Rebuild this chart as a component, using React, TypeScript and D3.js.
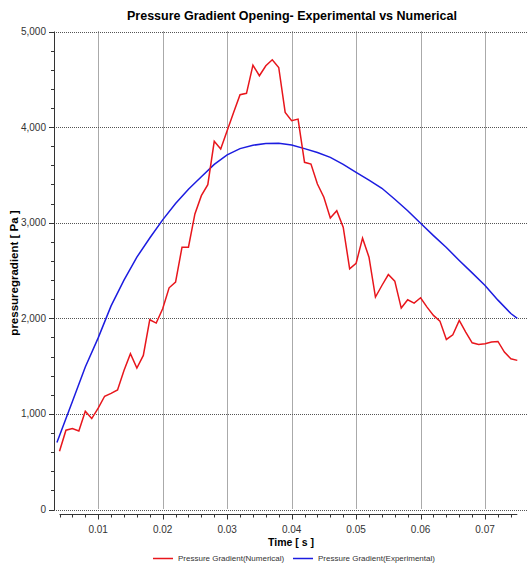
import React from "react";
import * as d3 from "d3";

const numTime: number[] = [
  0.004, 0.005, 0.006, 0.007, 0.008, 0.009, 0.01, 0.011, 0.012, 0.013, 0.014, 0.015,
  0.016, 0.017, 0.018, 0.019, 0.02, 0.021, 0.022, 0.023, 0.024, 0.025, 0.026, 0.027,
  0.028, 0.029, 0.03, 0.031, 0.032, 0.033, 0.034, 0.035, 0.036, 0.037, 0.038, 0.039,
  0.04, 0.041, 0.042, 0.043, 0.044, 0.045, 0.046, 0.047, 0.048, 0.049, 0.05, 0.051,
  0.052, 0.053, 0.054, 0.055, 0.056, 0.057, 0.058, 0.059, 0.06, 0.061, 0.062, 0.063,
  0.064, 0.065, 0.066, 0.067, 0.068, 0.069, 0.07, 0.071, 0.072, 0.073, 0.074, 0.075,
];
const numValues: number[] = [
  610, 829, 846, 822, 1027, 951, 1060, 1185, 1215, 1250, 1455, 1630,
  1480, 1612, 1985, 1950, 2100, 2319, 2378, 2744, 2744, 3092, 3283, 3398,
  3851, 3771, 3963, 4154, 4339, 4353, 4648, 4537, 4642, 4704, 4624, 4154,
  4067, 4084, 3632, 3614, 3405, 3266, 3050, 3126, 2953, 2517, 2576, 2838,
  2639, 2222, 2343, 2458, 2389, 2107, 2194, 2159, 2215, 2117, 2030, 1971,
  1779, 1828, 1978, 1856, 1744, 1727, 1734, 1751, 1758, 1647, 1577, 1560,
];

const expTime: number[] = [
  0.0036, 0.006, 0.008, 0.01, 0.012, 0.014, 0.016, 0.018, 0.02, 0.022, 0.024, 0.026,
  0.028, 0.03, 0.032, 0.034, 0.036, 0.038, 0.04, 0.042, 0.044, 0.046, 0.048, 0.05,
  0.052, 0.054, 0.056, 0.058, 0.06, 0.062, 0.064, 0.066, 0.068, 0.07, 0.072, 0.074, 0.075,
];
const expValues: number[] = [
  700, 1130, 1490, 1795, 2130, 2400, 2640, 2840, 3030, 3200, 3350, 3480,
  3610, 3710, 3775, 3810, 3828, 3830, 3813, 3775, 3734, 3683, 3610, 3527,
  3445, 3360, 3245, 3125, 2995, 2865, 2740, 2605, 2475, 2343, 2190, 2050, 1999,
];

const xTicks: number[] = [0.01, 0.02, 0.03, 0.04, 0.05, 0.06, 0.07];
const yTicks: number[] = [0, 1000, 2000, 3000, 4000, 5000];

const title = "Pressure Gradient Opening- Experimental vs Numerical";
const xLabel = "Time [ s ]";
const yLabel = "pressuregradient [ Pa ]";
const seriesNames: string[] = ["Pressure Gradient(Numerical)", "Pressure Gradient(Experimental)"];
const seriesColors: string[] = ["#e8161c", "#1c1ce0"];

export default function App() {
  const W = 527;
  const H = 565;
  const plotLeft = 54;
  const plotRight = 527;
  const x = d3.scaleLinear().domain([0.004, 0.075]).range([59.5, 517.3]);
  const y = d3.scaleLinear().domain([0, 5000]).range([509.5, 31.5]);
  const xAxisY = 514.5;

  const line = d3
    .line<[number, number]>()
    .x((d) => x(d[0]))
    .y((d) => y(d[1]));

  const numData: [number, number][] = numTime.map((t, i) => [t, numValues[i]]);
  const expData: [number, number][] = expTime.map((t, i) => [t, expValues[i]]);

  const xMinor: number[] = d3.range(4, 76, 2).map((v) => v / 1000).filter((v) => !xTicks.some((t) => Math.abs(t - v) < 1e-9));
  const yMinor: number[] = d3.range(0, 5001, 200).filter((v) => v % 1000 !== 0);

  const fmt = d3.format(",");
  const font = "'Liberation Sans', Arial, sans-serif";
  const axisColor = "#333";
  const gridColor = "#555";

  return (
    <svg width={W} height={H} style={{ position: "absolute", left: 0, top: 0 }} fontFamily={font}>
      <rect width={W} height={H} fill="#fff" />
      <text x={292} y={20} textAnchor="middle" fontSize={12.5} fontWeight="bold" fill="#000">
        {title}
      </text>
      {/* grid */}
      {yTicks.map((v) => (
        <line
          key={"gy" + v}
          x1={plotLeft}
          x2={plotRight}
          y1={Math.round(y(v)) + 0.5}
          y2={Math.round(y(v)) + 0.5}
          stroke={gridColor}
          strokeWidth={1}
          strokeDasharray="1,1"
        />
      ))}
      {xTicks.map((v) => (
        <line
          key={"gx" + v}
          x1={Math.round(x(v)) + 0.5}
          x2={Math.round(x(v)) + 0.5}
          y1={y(5000)}
          y2={y(0)}
          stroke={gridColor}
          strokeWidth={1}
          strokeDasharray="1,1"
        />
      ))}
      {/* y axis */}
      <line x1={plotLeft + 0.5} x2={plotLeft + 0.5} y1={y(5000)} y2={y(0) + 0.5} stroke={axisColor} />
      {yTicks.map((v) => (
        <g key={"yt" + v}>
          <line x1={plotLeft - 5} x2={plotLeft} y1={Math.round(y(v)) + 0.5} y2={Math.round(y(v)) + 0.5} stroke={axisColor} />
          <text x={plotLeft - 8} y={y(v) + 3.5} textAnchor="end" fontSize={10} fill="#333">
            {fmt(v)}
          </text>
        </g>
      ))}
      {yMinor.map((v) => (
        <line key={"ym" + v} x1={plotLeft - 3} x2={plotLeft} y1={Math.round(y(v)) + 0.5} y2={Math.round(y(v)) + 0.5} stroke={axisColor} />
      ))}
      {/* x axis */}
      <line x1={x(0.004)} x2={x(0.075)} y1={xAxisY} y2={xAxisY} stroke={axisColor} />
      {xTicks.map((v) => (
        <g key={"xt" + v}>
          <line x1={Math.round(x(v)) + 0.5} x2={Math.round(x(v)) + 0.5} y1={xAxisY} y2={xAxisY + 5} stroke={axisColor} />
          <text x={x(v)} y={533} textAnchor="middle" fontSize={10} fill="#333">
            {v.toString()}
          </text>
        </g>
      ))}
      {xMinor.map((v) => (
        <line key={"xm" + v} x1={Math.round(x(v)) + 0.5} x2={Math.round(x(v)) + 0.5} y1={xAxisY} y2={xAxisY + 3} stroke={axisColor} />
      ))}
      {/* labels */}
      <text x={291} y={546} textAnchor="middle" fontSize={10.5} fontWeight="bold" fill="#000">
        {xLabel}
      </text>
      <text
        transform={`translate(18,273) rotate(-90)`}
        textAnchor="middle"
        fontSize={11.5}
        fontWeight="bold"
        fill="#000"
      >
        {yLabel}
      </text>
      {/* series */}
      <path d={line(expData) ?? ""} fill="none" stroke={seriesColors[1]} strokeWidth={1.5} />
      <path d={line(numData) ?? ""} fill="none" stroke={seriesColors[0]} strokeWidth={1.5} />
      {/* legend */}
      {seriesNames.map((name, i) => {
        const lx = i === 0 ? 153 : 293;
        return (
          <g key={name}>
            <line x1={lx} x2={lx + 20} y1={558.5} y2={558.5} stroke={seriesColors[i]} strokeWidth={1.5} />
            <text x={lx + 25} y={561} fontSize={8} fill="#333">
              {name}
            </text>
          </g>
        );
      })}
    </svg>
  );
}
